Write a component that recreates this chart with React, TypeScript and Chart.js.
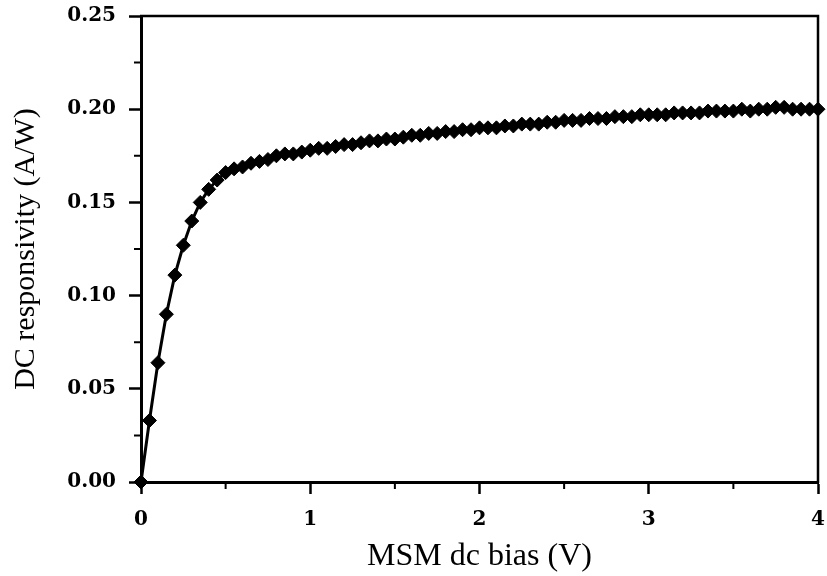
import React, { useEffect, useRef } from "react";
import { Chart, registerables } from "chart.js";

Chart.register(...registerables);

const biasV: number[] = [
  0.0, 0.05, 0.1, 0.15, 0.2, 0.25, 0.3, 0.35, 0.4, 0.45,
  0.5, 0.55, 0.6, 0.65, 0.7, 0.75, 0.8, 0.85, 0.9, 0.95,
  1.0, 1.05, 1.1, 1.15, 1.2, 1.25, 1.3, 1.35, 1.4, 1.45,
  1.5, 1.55, 1.6, 1.65, 1.7, 1.75, 1.8, 1.85, 1.9, 1.95,
  2.0, 2.05, 2.1, 2.15, 2.2, 2.25, 2.3, 2.35, 2.4, 2.45,
  2.5, 2.55, 2.6, 2.65, 2.7, 2.75, 2.8, 2.85, 2.9, 2.95,
  3.0, 3.05, 3.1, 3.15, 3.2, 3.25, 3.3, 3.35, 3.4, 3.45,
  3.5, 3.55, 3.6, 3.65, 3.7, 3.75, 3.8, 3.85, 3.9, 3.95,
  4.0,
];

const responsivity: number[] = [
  0.0, 0.033, 0.064, 0.09, 0.111, 0.127, 0.14, 0.15, 0.157, 0.162,
  0.166, 0.168, 0.169, 0.171, 0.172, 0.173, 0.175, 0.176, 0.176, 0.177,
  0.178, 0.179, 0.179, 0.18, 0.181, 0.181, 0.182, 0.183, 0.183, 0.184,
  0.184, 0.185, 0.186, 0.186, 0.187, 0.187, 0.188, 0.188, 0.189, 0.189,
  0.19, 0.19, 0.19, 0.191, 0.191, 0.192, 0.192, 0.192, 0.193, 0.193,
  0.194, 0.194, 0.194, 0.195, 0.195, 0.195, 0.196, 0.196, 0.196, 0.197,
  0.197, 0.197, 0.197, 0.198, 0.198, 0.198, 0.198, 0.199, 0.199, 0.199,
  0.199, 0.2, 0.199, 0.2, 0.2, 0.201, 0.201, 0.2, 0.2, 0.2,
  0.2,
];

const xTickValues: number[] = [0, 1, 2, 3, 4];
const yTickValues: number[] = [0.0, 0.05, 0.1, 0.15, 0.2, 0.25];

const xTitle = "MSM dc bias (V)";
const yTitle = "DC responsivity (A/W)";

const TICK_FONT = { family: "'DejaVu Serif', serif", size: 20, weight: "bold" as const };

const framePlugin = {
  id: "frameAndMinor",
  afterDraw(chart: any) {
    const { ctx, chartArea: a, scales } = chart;
    ctx.save();
    ctx.strokeStyle = "#000";
    ctx.lineCap = "butt";
    ctx.lineWidth = 2.5;
    ctx.beginPath();
    ctx.moveTo(a.left - 1, a.top);
    ctx.lineTo(a.right, a.top);
    ctx.lineTo(a.right, a.bottom + 1);
    ctx.stroke();
    // minor ticks at midpoints between major ticks
    ctx.lineWidth = 2;
    ctx.beginPath();
    for (let i = 0; i < yTickValues.length - 1; i++) {
      const py = scales.y.getPixelForValue((yTickValues[i] + yTickValues[i + 1]) / 2);
      ctx.moveTo(a.left - 7, py);
      ctx.lineTo(a.left, py);
    }
    for (let i = 0; i < xTickValues.length - 1; i++) {
      const px = scales.x.getPixelForValue((xTickValues[i] + xTickValues[i + 1]) / 2);
      ctx.moveTo(px, a.bottom);
      ctx.lineTo(px, a.bottom + 7);
    }
    ctx.stroke();
    ctx.restore();
  },
};

export default function App() {
  const canvasRef = useRef<HTMLCanvasElement | null>(null);

  useEffect(() => {
    const canvas = canvasRef.current;
    if (!canvas) return;
    const chart = new Chart(canvas, {
      type: "line",
      data: {
        datasets: [
          {
            data: biasV.map((x, i) => ({ x, y: responsivity[i] })),
            borderColor: "#000",
            backgroundColor: "#000",
            borderWidth: 3,
            pointStyle: "rectRot",
            pointRadius: 7,
            pointBackgroundColor: "#000",
            pointBorderColor: "#000",
            pointBorderWidth: 1,
            tension: 0,
            clip: false as any,
          },
        ],
      },
      options: {
        animation: false,
        responsive: false,
        devicePixelRatio: 1,
        layout: { padding: { left: 0, top: 16, right: 9, bottom: 0 } },
        plugins: { legend: { display: false }, tooltip: { enabled: false } },
        scales: {
          x: {
            type: "linear",
            min: 0,
            max: 4,
            afterBuildTicks: (scale: any) => {
              scale.ticks = xTickValues.map((v) => ({ value: v }));
            },
            afterFit: (scale: any) => {
              scale.height = 94;
              scale.paddingLeft = 0;
              scale.paddingRight = 0;
            },
            ticks: {
              color: "#000",
              font: TICK_FONT,
              padding: 14,
              autoSkip: false,
              maxRotation: 0,
              callback: (v: any) => String(v),
            },
            grid: {
              display: true,
              drawOnChartArea: false,
              drawTicks: true,
              tickLength: 12,
              tickWidth: 2.5,
              tickColor: "#000",
            },
            border: { display: true, color: "#000", width: 3 },
            title: {
              display: true,
              text: xTitle,
              color: "#000",
              font: { family: "'Liberation Serif', 'Times New Roman', serif", size: 32 },
              padding: { top: 0, bottom: 0 },
            },
          },
          y: {
            type: "linear",
            min: 0,
            max: 0.25,
            afterBuildTicks: (scale: any) => {
              scale.ticks = yTickValues.map((v) => ({ value: v }));
            },
            afterFit: (scale: any) => {
              scale.width = 141;
              scale.paddingTop = 0;
              scale.paddingBottom = 0;
            },
            ticks: {
              color: "#000",
              font: TICK_FONT,
              padding: 13,
              autoSkip: false,
              callback: (v: any) => Number(v).toFixed(2),
            },
            grid: {
              display: true,
              drawOnChartArea: false,
              drawTicks: true,
              tickLength: 12,
              tickWidth: 2.5,
              tickColor: "#000",
            },
            border: { display: true, color: "#000", width: 3 },
            title: {
              display: true,
              text: yTitle,
              color: "#000",
              font: { family: "'Liberation Serif', 'Times New Roman', serif", size: 30 },
              padding: { top: 8, bottom: 0 },
            },
          },
        },
      },
      plugins: [framePlugin],
    });
    return () => chart.destroy();
  }, []);

  return (
    <div style={{ position: "absolute", left: 0, top: 0, width: 827, height: 576, background: "#fff" }}>
      <canvas ref={canvasRef} width={827} height={576} style={{ display: "block", width: 827, height: 576 }} />
    </div>
  );
}
